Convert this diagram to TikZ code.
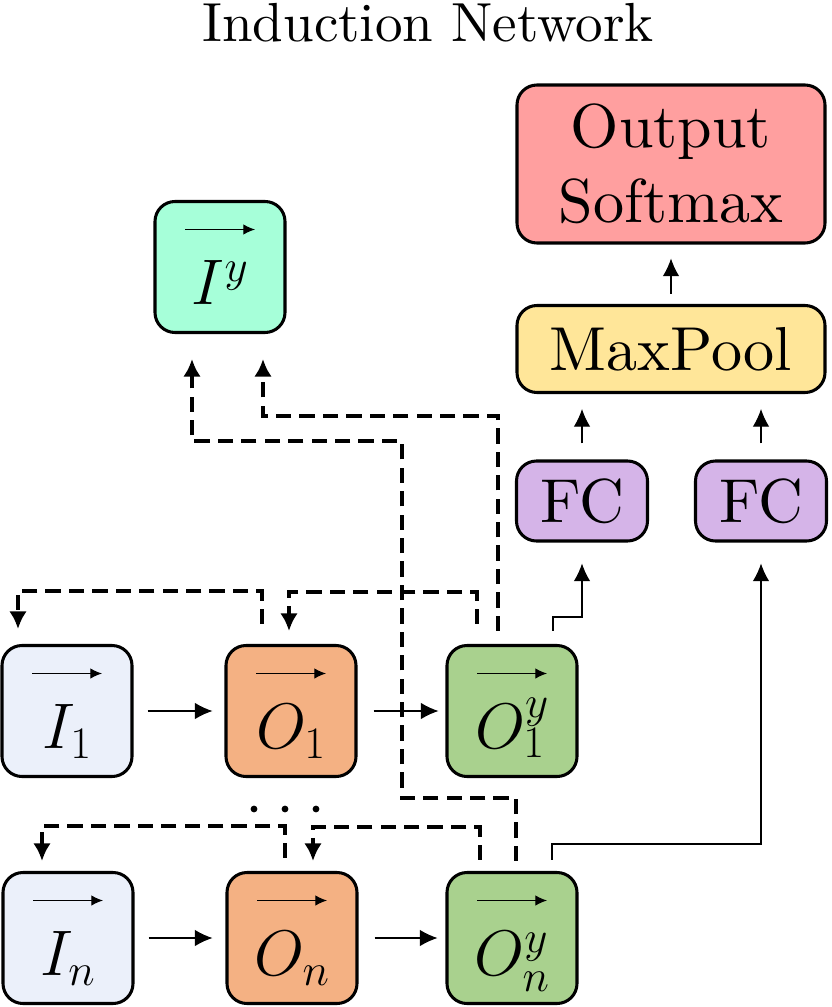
\RequirePackage{fix-cm}
\documentclass[tikz,border=0pt]{standalone}
\usepackage{fontspec}
\setmainfont{lmroman10-regular.otf}
\usetikzlibrary{arrows.meta,calc}

\definecolor{inblue}{RGB}{235,240,250}
\definecolor{outorange}{RGB}{244,177,131}
\definecolor{oygreen}{RGB}{169,209,142}
\definecolor{iymint}{RGB}{166,255,217}
\definecolor{softred}{RGB}{255,159,159}
\definecolor{poolyellow}{RGB}{255,230,153}
\definecolor{fcpurple}{RGB}{213,180,232}

\tikzset{
  box/.style={draw, line width=2.6pt, rounded corners=0.6cm, inner sep=0pt,
    font=\fontsize{53}{64}\selectfont},
  vecbox/.style={box, minimum width=3.9cm, minimum height=3.93cm,
    font=\fontsize{55}{64}\selectfont, text height=64pt, text depth=0pt,
    path picture={\draw[line width=1pt, -{Latex[length=10pt,width=9pt]}]
      ($(path picture bounding box.north)+(-35,28)$) -- ++(70,0);}},
  fcbox/.style={box, fill=fcpurple, minimum width=3.93cm, minimum height=2.4cm},
  sarrow/.style={line width=0.9pt, -{Latex[length=15pt,width=14pt]}},
  darrow/.style={line width=3pt, dash pattern=on 13pt off 7pt,
    -{Latex[length=15pt,width=15pt]}}
}

\begin{document}
\begin{tikzpicture}[x=0.03cm, y=-0.03cm]
\useasboundingbox (0,0) rectangle (831,1007);

% Title
\node[font=\fontsize{47}{56}\selectfont, inner sep=0pt] (title) at (428,23) {Induction Network};

% Support rows
\node[vecbox, fill=inblue] (i1) at (67,711) {$I_1$};
\node[vecbox, fill=outorange] (o1) at (291,711) {$O_1$};
\node[vecbox, fill=oygreen] (o1y) at (512,711) {$O_1^y$};
\node[vecbox, fill=inblue] (in) at (68,938) {$I_n$};
\node[vecbox, fill=outorange] (on) at (292,938) {$O_n$};
\node[vecbox, fill=oygreen] (ony) at (512,938) {$O_n^y$};

% Class vector
\node[vecbox, fill=iymint] (iy) at (220,267) {$I^y$};

% Classifier head
\node[box, fill=softred, minimum width=9.24cm, minimum height=4.74cm, align=center] (out) at (671,164) {Output\\Softmax};
\node[box, fill=poolyellow, minimum width=9.24cm, minimum height=2.61cm] (pool) at (671,349) {MaxPool};
\node[fcbox] (fc1) at (582,501) {FC};
\node[fcbox] (fc2) at (761,501) {FC};

% Dots between the rows
\coordinate (dots) at (285,809);
\foreach \dx in {-31,0,31}
  \fill ($(dots)+(\dx,0)$) circle (3.4);

% Solid arrows
\draw[sarrow, shorten <=0.42cm, shorten >=0.36cm] (i1.east) -- (o1.west);
\draw[sarrow, shorten <=0.48cm, shorten >=0.21cm] (o1.east) -- (o1y.west);
\draw[sarrow, shorten <=0.42cm, shorten >=0.39cm] (in.east) -- (on.west);
\draw[sarrow, shorten <=0.48cm, shorten >=0.24cm] (on.east) -- (ony.west);
\draw[sarrow, shorten >=0.63cm] ($(o1y.north)+(41,-13)$) -- ++(0,-14) -| (fc1.south);
\draw[sarrow, shorten >=0.63cm] ($(ony.north)+(40,-11)$) -- ++(0,-16) -| (fc2.south);
\draw[sarrow, shorten <=0.48cm, shorten >=0.45cm] (fc1.north) -- (fc1.north |- pool.south);
\draw[sarrow, shorten <=0.48cm, shorten >=0.45cm] (fc2.north) -- (fc2.north |- pool.south);
\draw[sarrow, shorten <=0.3cm, shorten >=0.42cm] (pool.north) -- (out.south);

% Dashed arrows
\draw[darrow] ($(o1.north)+(-29,-20)$) -- ++(0,-33) -| ($(i1.north)+(-49,-15)$);
\draw[darrow] ($(o1y.north)+(-35,-20)$) -- ++(0,-32) -| ($(o1.north)+(-2,-13)$);
\draw[darrow] ($(o1y.north)+(-14,-13)$) -- ++(0,-215) -| ($(iy.south)+(43,25)$);
\draw[darrow] ($(ony.north)+(4,-10)$) -- ++(0,-63) -- ++(-114,0) -- ++(0,-357) -| ($(iy.south)+(-28,25)$);
\draw[darrow] ($(on.north)+(-7,-13)$) -- ++(0,-32) -| ($(in.north)+(-26,-10)$);
\draw[darrow] ($(ony.north)+(-32,-11)$) -- ++(0,-33) -| ($(on.north)+(21,-10)$);

\end{tikzpicture}
\end{document}
